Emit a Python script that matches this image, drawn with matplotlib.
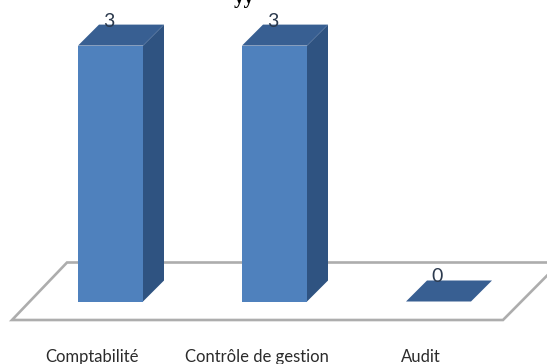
import matplotlib.pyplot as plt
from matplotlib.patches import Polygon

categories = ["Comptabilité", "Contrôle de gestion", "Audit"]
values = [3, 3, 0]

# pixel layout of the oblique 3D column chart
BASE_Y = 301.5
UNIT = 85.3       # pixels per unit of value
BAR_W = 65
DEPTH = 21
FIRST_X = 78
STEP = 164

FRONT = "#4f81bd"
TOP = "#385f92"
SIDE = "#2f5381"

fig = plt.figure(figsize=(5.47, 3.64), dpi=100)
ax = fig.add_axes([0, 0, 1, 1])
ax.set_xlim(0, 547)
ax.set_ylim(364, 0)
ax.axis("off")

# floor plane
ax.add_patch(Polygon([(12, 320), (67, 262.5), (560, 262.5), (503, 320)],
                     closed=True, fc="white", ec="#adadad", lw=1.9, zorder=1))

for i, (name, v) in enumerate(zip(categories, values)):
    x0 = FIRST_X + i * STEP
    x1 = x0 + BAR_W
    ytop = BASE_Y - v * UNIT
    if v > 0:
        ax.add_patch(Polygon([(x0, BASE_Y), (x1, BASE_Y), (x1, ytop), (x0, ytop)],
                             closed=True, fc=FRONT, ec="none", zorder=3))
        ax.add_patch(Polygon([(x1, BASE_Y), (x1 + DEPTH, BASE_Y - DEPTH),
                              (x1 + DEPTH, ytop - DEPTH), (x1, ytop)],
                             closed=True, fc=SIDE, ec="none", zorder=3))
    ax.add_patch(Polygon([(x0, ytop), (x1, ytop), (x1 + DEPTH, ytop - DEPTH),
                          (x0 + DEPTH, ytop - DEPTH)],
                         closed=True, fc=TOP, ec="none", zorder=3))
    # value sits on the back half of the top face
    ax.text(x0 + 31, ytop - 24.5, str(v), ha="center", va="center",
            fontsize=14, family="Lato", color="#2c3a4e", zorder=4)
    ax.text(x0 + 14 + i * 0.5 - (i == 2) * 0.5, 357, name, ha="center", va="center",
            fontsize=12, family="Lato", color="#2b2b2b", zorder=4)

# title line, cut off by the top edge
ax.text(244, -1.5, "yy", ha="center", va="center", fontsize=15, family="Liberation Serif",
        fontweight="bold", color="black")

fig.savefig("out.png", dpi=100)
